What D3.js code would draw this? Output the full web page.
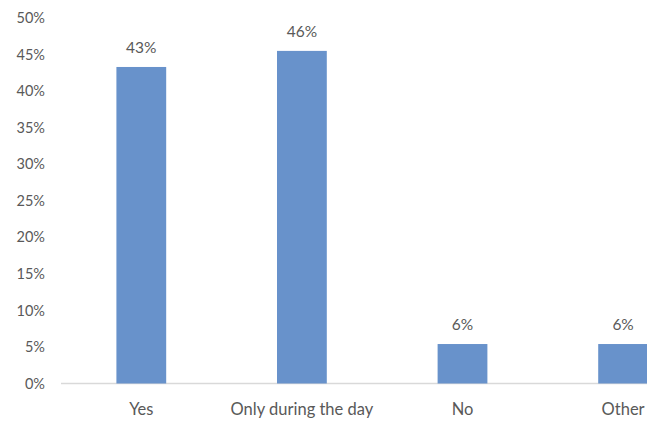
<!DOCTYPE html>
<html>
<head>
<meta charset="utf-8">
<script src="https://cdn.jsdelivr.net/npm/d3@7"></script>
<style>
  html, body { margin: 0; padding: 0; background: #fff; overflow: hidden; }
  svg { display: block; }
  text { font-family: Lato, "Open Sans", sans-serif; fill: #595959; }
</style>
</head>
<body>
<svg id="chart" width="647" height="423"></svg>
<script>
const categories = ["Yes", "Only during the day", "No", "Other"];
const values = [43.3, 45.5, 5.4, 5.4];
const valueLabels = ["43%", "46%", "6%", "6%"];
const yTicks = [0, 5, 10, 15, 20, 25, 30, 35, 40, 45, 50];

const svg = d3.select("#chart");

const x = d3.scaleBand()
  .domain(categories)
  .range([61, 61 + 4 * 160.6])
  .paddingInner(0.69)
  .paddingOuter(0.345);

const y = d3.scaleLinear().domain([0, 50]).range([383.5, 18]);

// baseline
svg.append("line")
  .attr("x1", 61).attr("x2", 647)
  .attr("y1", y(0)).attr("y2", y(0))
  .attr("stroke", "#d9d9d9").attr("stroke-width", 1.5);

// y axis labels
const yAxis = d3.axisLeft(y).tickValues(yTicks).tickFormat(d => d + "%").tickSize(0).tickPadding(0);
const gy = svg.append("g").attr("transform", "translate(45,0)").call(yAxis);
gy.select(".domain").remove();
gy.selectAll("text").style("font-family", "Lato, 'Open Sans', sans-serif").style("font-size", "14.5px").attr("fill", "#595959");

// bars
svg.selectAll("rect.bar").data(categories).enter().append("rect")
  .attr("class", "bar")
  .attr("x", d => x(d))
  .attr("width", x.bandwidth())
  .attr("y", (d, i) => y(values[i]))
  .attr("height", (d, i) => y(0) - y(values[i]))
  .attr("fill", "#6892cb");

// value labels
svg.selectAll("text.val").data(categories).enter().append("text")
  .attr("class", "val")
  .attr("x", d => x(d) + x.bandwidth() / 2)
  .attr("y", (d, i) => y(values[i]) - 14)
  .attr("text-anchor", "middle")
  .style("font-size", "15.5px")
  .text((d, i) => valueLabels[i]);

// x axis labels
const xAxis = d3.axisBottom(x).tickSize(0).tickPadding(0);
const gx = svg.append("g").attr("transform", "translate(0,403)").call(xAxis);
gx.select(".domain").remove();
gx.selectAll("text").style("font-family", "Lato, 'Open Sans', sans-serif").style("font-size", "16.5px").attr("fill", "#595959");
</script>
</body>
</html>
